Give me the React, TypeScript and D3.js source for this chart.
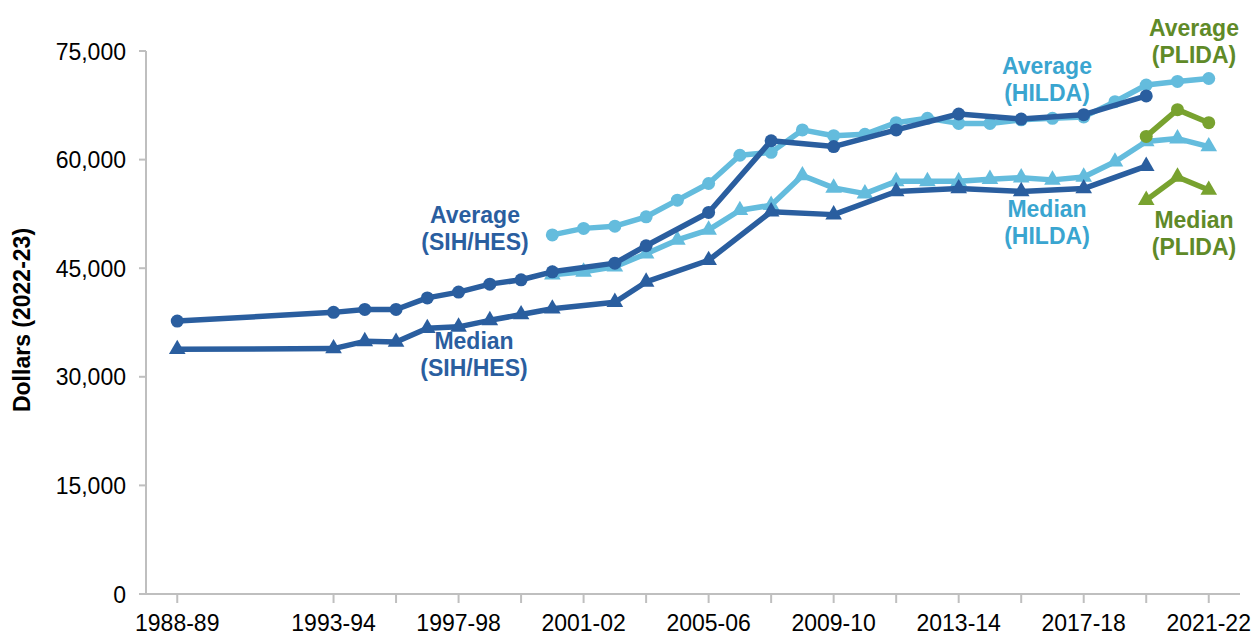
import React from "react";
import * as d3 from "d3";

const sihYears = [1988, 1993, 1994, 1995, 1996, 1997, 1998, 1999, 2000, 2002, 2003, 2005, 2007, 2009, 2011, 2013, 2015, 2017, 2019];
const sihAverage = [37700, 38900, 39300, 39300, 40900, 41700, 42800, 43400, 44500, 45700, 48100, 52700, 62600, 61800, 64100, 66300, 65600, 66200, 68800];
const sihMedian = [33800, 33900, 34900, 34800, 36700, 36900, 37800, 38600, 39400, 40300, 43100, 46100, 52800, 52400, 55600, 56000, 55600, 56000, 59100];

const hildaYears = [2000, 2001, 2002, 2003, 2004, 2005, 2006, 2007, 2008, 2009, 2010, 2011, 2012, 2013, 2014, 2015, 2016, 2017, 2018, 2019, 2020, 2021];
const hildaAverage = [49600, 50500, 50800, 52100, 54400, 56700, 60600, 61000, 64100, 63300, 63500, 65100, 65700, 65000, 65000, 65500, 65700, 65900, 68000, 70300, 70800, 71200];
const hildaMedian = [44100, 44500, 45200, 47000, 48900, 50300, 53000, 53700, 57800, 56100, 55300, 57000, 57000, 57000, 57300, 57500, 57200, 57600, 59700, 62500, 62900, 61800];

const plidaYears = [2019, 2020, 2021];
const plidaAverage = [63200, 66900, 65100];
const plidaMedian = [54400, 57600, 55800];

const yTicks = [0, 15000, 30000, 45000, 60000, 75000];
const xTickYears = [1988, 1993, 1995, 1997, 1999, 2001, 2003, 2005, 2007, 2009, 2011, 2013, 2015, 2017, 2019, 2021];
const xLabelYears = [1988, 1993, 1997, 2001, 2005, 2009, 2013, 2017, 2021];

const yearLabel = (y: number) => `${y}-${String((y + 1) % 100).padStart(2, "0")}`;

const DARK = "#2A5E9F";
const LIGHT = "#64BCDD";
const LIGHT_TEXT = "#3AA5D0";
const GREEN = "#78A22F";
const GREEN_TEXT = "#5F8A28";
const FONT = "'Liberation Sans', Arial, sans-serif";

export default function App() {
  const x = d3.scaleLinear().domain([1987, 2022]).range([146, 1240]);
  const y = d3.scaleLinear().domain([0, 75000]).range([594, 51]);
  const line = d3
    .line<[number, number]>()
    .x((d) => x(d[0]))
    .y((d) => y(d[1]));
  const tri = d3.symbol().type(d3.symbolTriangle).size(120)() as string;

  const zip = (xs: number[], ys: number[]) => xs.map((v, i) => [v, ys[i]] as [number, number]);

  const series = [
    { pts: zip(hildaYears, hildaAverage), color: LIGHT, marker: "circle" },
    { pts: zip(hildaYears, hildaMedian), color: LIGHT, marker: "tri" },
    { pts: zip(sihYears, sihAverage), color: DARK, marker: "circle" },
    { pts: zip(sihYears, sihMedian), color: DARK, marker: "tri" },
    { pts: zip(plidaYears, plidaAverage), color: GREEN, marker: "circle" },
    { pts: zip(plidaYears, plidaMedian), color: GREEN, marker: "tri" },
  ];

  const labels = [
    { t: ["Average", "(SIH/HES)"], cx: 475, by: 223, c: DARK },
    { t: ["Median", "(SIH/HES)"], cx: 474, by: 349, c: DARK },
    { t: ["Average", "(HILDA)"], cx: 1047, by: 74, c: LIGHT_TEXT },
    { t: ["Median", "(HILDA)"], cx: 1047, by: 217, c: LIGHT_TEXT },
    { t: ["Average", "(PLIDA)"], cx: 1194, by: 36, c: GREEN_TEXT },
    { t: ["Median", "(PLIDA)"], cx: 1194, by: 228, c: GREEN_TEXT },
  ];

  return (
    <svg width={1255} height={634} style={{ position: "absolute", left: 0, top: 0, fontFamily: FONT }}>
      <rect width={1255} height={634} fill="#fff" />
      {/* axes */}
      <line x1={146} x2={146} y1={y(75000)} y2={y(0)} stroke="#BFBFBF" strokeWidth={2} />
      <line x1={145} x2={1240} y1={y(0)} y2={y(0)} stroke="#BFBFBF" strokeWidth={2} />
      {yTicks.map((t) => (
        <g key={t}>
          <line x1={139} x2={146} y1={y(t)} y2={y(t)} stroke="#BFBFBF" strokeWidth={2} />
          <text x={126} y={y(t) + 8.5} textAnchor="end" fontSize={23} fill="#000">
            {d3.format(",")(t)}
          </text>
        </g>
      ))}
      {xTickYears.map((yr) => (
        <line key={yr} x1={x(yr)} x2={x(yr)} y1={y(0)} y2={y(0) + 9} stroke="#BFBFBF" strokeWidth={2} />
      ))}
      {xLabelYears.map((yr) => (
        <text key={yr} x={x(yr)} y={630.5} textAnchor="middle" fontSize={23} fill="#000">
          {yearLabel(yr)}
        </text>
      ))}
      <text
        transform={`translate(30,320) rotate(-90)`}
        textAnchor="middle"
        fontSize={23}
        fontWeight="bold"
        fill="#000"
      >
        Dollars (2022-23)
      </text>
      {/* series */}
      {series.map((s, i) => (
        <g key={i}>
          <path d={line(s.pts) || ""} fill="none" stroke={s.color} strokeWidth={5.5} strokeLinejoin="round" />
          {s.pts.map((p, j) =>
            s.marker === "circle" ? (
              <circle key={j} cx={x(p[0])} cy={y(p[1])} r={6.5} fill={s.color} />
            ) : (
              <path key={j} d={tri} transform={`translate(${x(p[0])},${y(p[1])})`} fill={s.color} />
            )
          )}
        </g>
      ))}
      {/* labels */}
      {labels.map((l, i) => (
        <text key={i} textAnchor="middle" fontSize={23} fontWeight="bold" fill={l.c}>
          <tspan x={l.cx} y={l.by}>{l.t[0]}</tspan>
          <tspan x={l.cx} y={l.by + 27}>{l.t[1]}</tspan>
        </text>
      ))}
    </svg>
  );
}
